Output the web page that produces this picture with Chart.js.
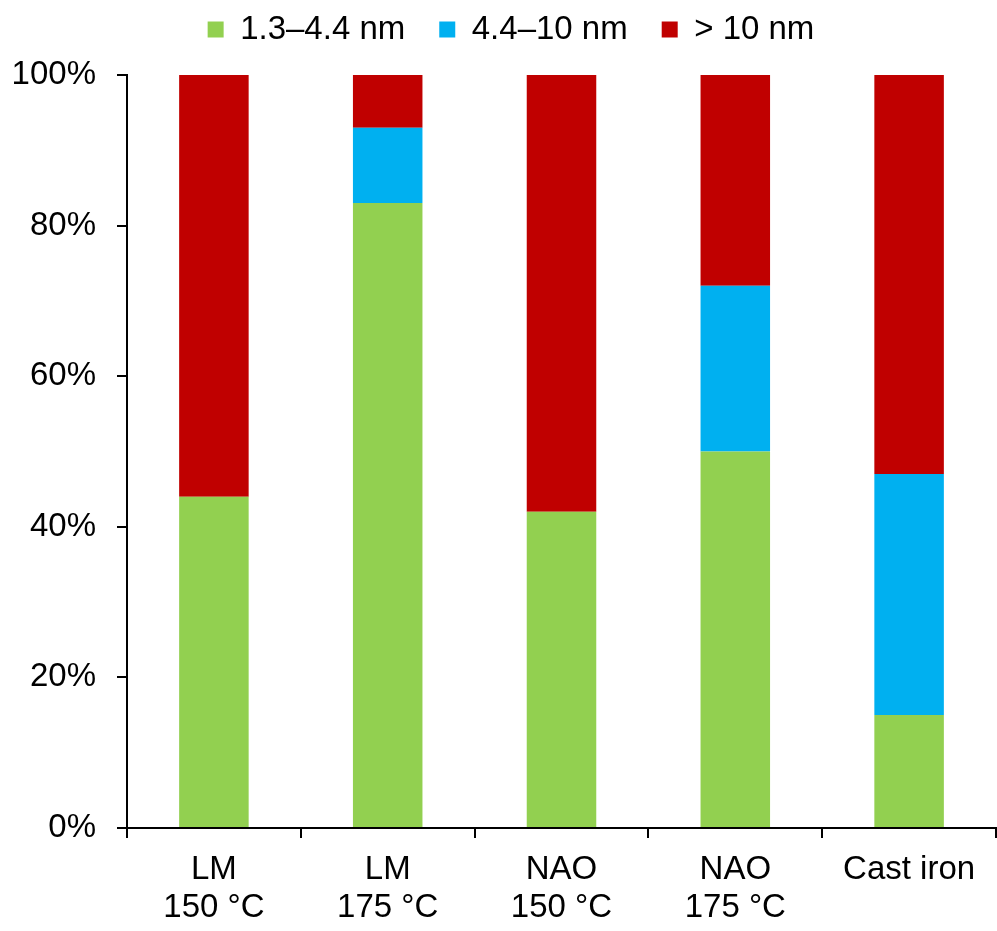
<!DOCTYPE html>
<html>
<head>
<meta charset="utf-8">
<script src="https://cdn.jsdelivr.net/npm/chart.js@4.4.1/dist/chart.umd.min.js"></script>
<style>
  html, body { margin: 0; padding: 0; background: #fff; }
  #wrap { width: 997px; height: 931px; }
</style>
</head>
<body>
<div id="wrap"><canvas id="pore-chart" width="997" height="931"></canvas></div>
<script>
// categories and share of each pore size class (%)
var categories = [["LM", "150 °C"], ["LM", "175 °C"], ["NAO", "150 °C"], ["NAO", "175 °C"], "Cast iron"];
var smallPores = [44, 83, 42, 50, 15];   // 1.3–4.4 nm
var midPores   = [0, 10, 0, 22, 32];     // 4.4–10 nm
var largePores = [56, 7, 58, 28, 53];    // > 10 nm
var seriesNames = ["1.3–4.4 nm", "4.4–10 nm", "> 10 nm"];
var yTicks = [0, 20, 40, 60, 80, 100];

var fontFamily = "'Liberation Sans', Arial, sans-serif";

var poreData = {
    labels: categories,
    datasets: [
        { label: seriesNames[0], data: smallPores, backgroundColor: "#92D050" },
        { label: seriesNames[1], data: midPores, backgroundColor: "#00B0F0" },
        { label: seriesNames[2], data: largePores, backgroundColor: "#C00000" }
    ]
};

// extra room between the legend and the plot, legend sits a bit right of centre
var legendTweak = {
    id: 'legendTweak',
    beforeInit: function (chart) {
        var fit = chart.legend.fit;
        var draw = chart.legend.draw;
        chart.legend.fit = function () {
            fit.call(this);
            this.height += 19;
        };
        chart.legend.draw = function () {
            var c = this.ctx;
            c.save();
            c.translate(13, 0);
            draw.call(this);
            c.restore();
        };
    }
};

var chartOptions = {
    responsive: false,
    animation: false,
    layout: { padding: { top: -21, left: 0, right: 1, bottom: 0 } },
    datasets: { bar: { barPercentage: 0.4, categoryPercentage: 1, borderWidth: 0 } },
    plugins: {
        tooltip: { enabled: false },
        legend: {
            display: true,
            position: 'top',
            labels: {
                boxWidth: 16,
                boxHeight: 16,
                padding: 34,
                color: '#000',
                font: { family: fontFamily, size: 33 }
            }
        }
    },
    scales: {
        x: {
            stacked: true,
            grid: { offset: true, drawOnChartArea: false, drawTicks: true, tickLength: 10, color: '#000', lineWidth: 2 },
            border: { display: true, color: '#000', width: 2 },
            ticks: { color: '#000', padding: 13, font: { family: fontFamily, size: 33, lineHeight: 1.15 }, maxRotation: 0, autoSkip: false },
            afterFit: function (scale) { scale.height = 103; }
        },
        y: {
            stacked: true,
            min: 0,
            max: 100,
            afterBuildTicks: function (scale) {
                scale.ticks = yTicks.map(function (v) { return { value: v }; });
            },
            grid: { drawOnChartArea: false, drawTicks: true, tickLength: 10, color: '#000', lineWidth: 2 },
            border: { display: true, color: '#000', width: 2 },
            ticks: {
                color: '#000',
                padding: 21,
                font: { family: fontFamily, size: 33 },
                callback: function (v) { return v + '%'; }
            },
            afterFit: function (scale) { scale.width = 127; }
        }
    }
};

var ctx = document.getElementById("pore-chart");

var myChart = new Chart(ctx, {
    type: 'bar',
    data: poreData,
    options: chartOptions,
    plugins: [legendTweak]
});
</script>
</body>
</html>
